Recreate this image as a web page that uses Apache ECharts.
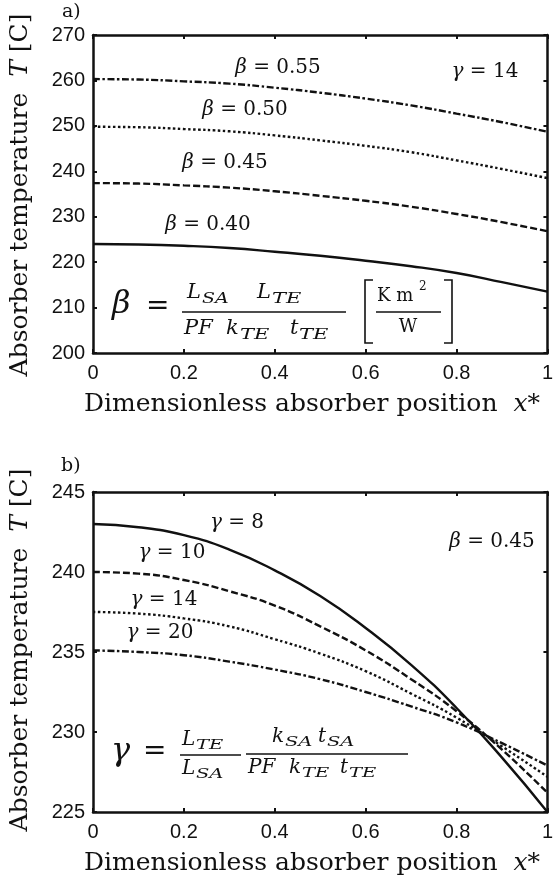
<!DOCTYPE html>
<html><head><meta charset="utf-8">
<script src="https://cdn.jsdelivr.net/npm/echarts@6/dist/echarts.min.js"></script>
<style>html,body{margin:0;padding:0;background:#fff}#c{width:556px;height:888px}</style>
</head><body><div id="c"></div>
<script>
// ---- data ----
const xPos = [0, 0.1, 0.2, 0.3, 0.4, 0.5, 0.6, 0.7, 0.8, 0.9, 1.0];
// panel a) gamma = 14
const beta055 = [260.3, 260.2, 259.8, 259.3, 258.4, 257.3, 256.0, 254.5, 252.7, 250.8, 248.7];
const beta050 = [249.8, 249.7, 249.3, 248.8, 247.9, 246.8, 245.6, 244.2, 242.4, 240.5, 238.5];
const beta045 = [237.4, 237.3, 236.9, 236.4, 235.6, 234.6, 233.5, 232.2, 230.6, 228.8, 226.8];
const beta040 = [224.0, 223.9, 223.6, 223.1, 222.3, 221.4, 220.3, 219.1, 217.6, 215.6, 213.5];
// panel b) beta = 0.45
const gamma8  = [243.0, 242.8, 242.3, 241.4, 240.1, 238.5, 236.5, 234.2, 231.5, 228.4, 225.0];
const gamma10 = [240.0, 239.9, 239.5, 238.8, 237.9, 236.6, 235.1, 233.3, 231.3, 228.9, 226.2];
const gamma14 = [237.5, 237.4, 237.1, 236.6, 235.8, 234.9, 233.8, 232.4, 230.9, 229.1, 227.2];
const gamma20 = [235.1, 235.0, 234.8, 234.4, 233.9, 233.3, 232.5, 231.6, 230.6, 229.3, 227.9];
const xTicks = [0, 0.2, 0.4, 0.6, 0.8, 1];
const yTicksA = [200, 210, 220, 230, 240, 250, 260, 270];
const yTicksB = [225, 230, 235, 240, 245];

// ---- styles ----
const INK = '#111';
const SERIF = '"DejaVu Serif", serif';
const SANS = '"Liberation Sans", Arial, sans-serif';
const DASH = {solid: 'solid', dashed: [7, 3], dotted: [2.5, 2.5], dashdot: [7, 2.5, 2.5, 2.5]};

function pts(arr) { return xPos.map((x, i) => [x, arr[i]]); }
function fmtX(v) { return (v === 0 || v === 1) ? String(v) : v.toFixed(1); }

function xAx(grid, pos, show) {
  return {
    type: 'value', gridIndex: grid, position: pos, min: 0, max: 1, interval: 0.2,
    axisLine: {show: true, onZero: false, lineStyle: {color: INK, width: 2.5}},
    axisTick: {show: true, inside: true, length: 4, lineStyle: {color: INK, width: 2}},
    axisLabel: {show: show, formatter: fmtX, fontFamily: SANS, fontSize: 20, color: INK, margin: 10},
    splitLine: {show: false}
  };
}
function yAx(grid, pos, show, mn, mx, iv) {
  return {
    type: 'value', gridIndex: grid, position: pos, min: mn, max: mx, interval: iv,
    axisLine: {show: true, onZero: false, lineStyle: {color: INK, width: 2.5}},
    axisTick: {show: true, inside: true, length: 4, lineStyle: {color: INK, width: 2}},
    axisLabel: {show: show, fontFamily: SANS, fontSize: 20, color: INK, margin: 8},
    splitLine: {show: false}
  };
}
function line(arr, dash, xi, yi) {
  return {
    type: 'line', xAxisIndex: xi, yAxisIndex: yi, data: pts(arr), showSymbol: false,
    smooth: true, silent: true,
    lineStyle: {color: INK, width: 2.4, type: DASH[dash]}
  };
}

// ---- annotation helpers ----
function txt(x, y, text, size, italic, align, extra) {
  return Object.assign({
    type: 'text', x: x, y: y, silent: true,
    style: {text: text, fill: INK, font: (italic ? 'italic ' : '') + size + 'px ' + SERIF,
            align: align || 'left', verticalAlign: 'middle'}
  }, extra || {});
}
function rtxt(x, y, text, size, align, extra) {
  return Object.assign({
    type: 'text', x: x, y: y, silent: true,
    style: {text: text, fill: INK, fontFamily: SERIF, fontSize: size,
            align: align || 'center', verticalAlign: 'middle',
            rich: {i: {fontStyle: 'italic', fontFamily: SERIF, fontSize: size, fill: INK}}}
  }, extra || {});
}
function seg(x1, y1, x2, y2, w) {
  return {type: 'line', silent: true, shape: {x1: x1, y1: y1, x2: x2, y2: y2},
          style: {stroke: INK, lineWidth: w || 1.5}};
}
function poly(points) {
  return {type: 'polyline', silent: true, shape: {points: points},
          style: {stroke: INK, lineWidth: 1.6, fill: null}};
}

const graphics = [
  // panel labels
  txt(62, 12, 'a)', 19, false),
  txt(61, 466, 'b)', 19, false),
  // y axis titles
  rtxt(20, 195, 'Absorber temperature  {i|T} [C]', 25, 'center', {rotation: Math.PI / 2}),
  rtxt(20, 650, 'Absorber temperature  {i|T} [C]', 25, 'center', {rotation: Math.PI / 2}),
  // x axis titles
  rtxt(312, 404, 'Dimensionless absorber position  {i|x*}', 25, 'center'),
  rtxt(312, 863, 'Dimensionless absorber position  {i|x*}', 25, 'center'),
  // panel a curve labels
  rtxt(278, 68, '{i|β} = 0.55', 20),
  rtxt(245, 110, '{i|β} = 0.50', 20),
  rtxt(225, 163, '{i|β} = 0.45', 20),
  rtxt(208, 225, '{i|β} = 0.40', 20),
  rtxt(485, 72, '{i|γ} = 14', 20),
  // panel b curve labels
  rtxt(237, 523, '{i|γ} = 8', 20),
  rtxt(172, 553, '{i|γ} = 10', 20),
  rtxt(164, 600, '{i|γ} = 14', 20),
  rtxt(160, 633, '{i|γ} = 20', 20),
  rtxt(492, 542, '{i|β} = 0.45', 20),
  // panel a formula: beta = L_SA L_TE / (PF k_TE t_TE) [K m^2 / W]
  txt(112, 305, 'β', 32, true),
  txt(146, 307, '=', 28, false),
  txt(187, 293, 'L', 21, true),
  txt(202, 299, 'SA', 14, true, 'left', {scaleX: 1.35}),
  txt(257, 293, 'L', 21, true),
  txt(272, 299, 'TE', 14, true, 'left', {scaleX: 1.5}),
  seg(182, 312, 346, 312),
  txt(184, 329, 'PF', 21, true),
  txt(226, 329, 'k', 21, true),
  txt(240, 335, 'TE', 14, true, 'left', {scaleX: 1.5}),
  txt(290, 329, 't', 21, true),
  txt(299, 335, 'TE', 14, true, 'left', {scaleX: 1.5}),
  poly([[373, 280], [365, 280], [365, 343], [373, 343]]),
  poly([[444, 280], [452, 280], [452, 343], [444, 343]]),
  txt(377, 296, 'K m', 18, false),
  txt(419, 287, '2', 12, false),
  seg(376, 312, 441, 312),
  txt(408, 327, 'W', 18, false, 'center'),
  // panel b formula: gamma = L_TE/L_SA * k_SA t_SA / (PF k_TE t_TE)
  txt(111, 752, 'γ', 32, true),
  txt(143, 752, '=', 28, false),
  txt(182, 740, 'L', 20, true),
  txt(196, 746, 'TE', 13, true, 'left', {scaleX: 1.5}),
  seg(180, 755, 241, 755),
  txt(182, 769, 'L', 20, true),
  txt(196, 775, 'SA', 13, true, 'left', {scaleX: 1.5}),
  txt(272, 737, 'k', 20, true),
  txt(285, 743, 'SA', 13, true, 'left', {scaleX: 1.5}),
  txt(318, 737, 't', 20, true),
  txt(327, 743, 'SA', 13, true, 'left', {scaleX: 1.5}),
  seg(246, 754, 408, 754),
  txt(248, 768, 'PF', 20, true),
  txt(289, 768, 'k', 20, true),
  txt(302, 774, 'TE', 13, true, 'left', {scaleX: 1.5}),
  txt(340, 768, 't', 20, true),
  txt(349, 774, 'TE', 13, true, 'left', {scaleX: 1.5})
];

const option = {
  backgroundColor: '#fff',
  animation: false,
  grid: [
    {left: 93, right: 4, top: 35, height: 318, containLabel: false},
    {left: 93, right: 4, top: 492, height: 320, containLabel: false}
  ],
  xAxis: [xAx(0, 'bottom', true), xAx(0, 'top', false), xAx(1, 'bottom', true), xAx(1, 'top', false)],
  yAxis: [yAx(0, 'left', true, 200, 270, 10), yAx(0, 'right', false, 200, 270, 10),
          yAx(1, 'left', true, 225, 245, 5), yAx(1, 'right', false, 225, 245, 5)],
  series: [
    line(beta055, 'dashdot', 0, 0),
    line(beta050, 'dotted', 0, 0),
    line(beta045, 'dashed', 0, 0),
    line(beta040, 'solid', 0, 0),
    line(gamma8, 'solid', 2, 2),
    line(gamma10, 'dashed', 2, 2),
    line(gamma14, 'dotted', 2, 2),
    line(gamma20, 'dashdot', 2, 2)
  ],
  graphic: graphics
};
const chart = echarts.init(document.getElementById('c'), null, {renderer: 'canvas'});
chart.setOption(option);
</script></body></html>
